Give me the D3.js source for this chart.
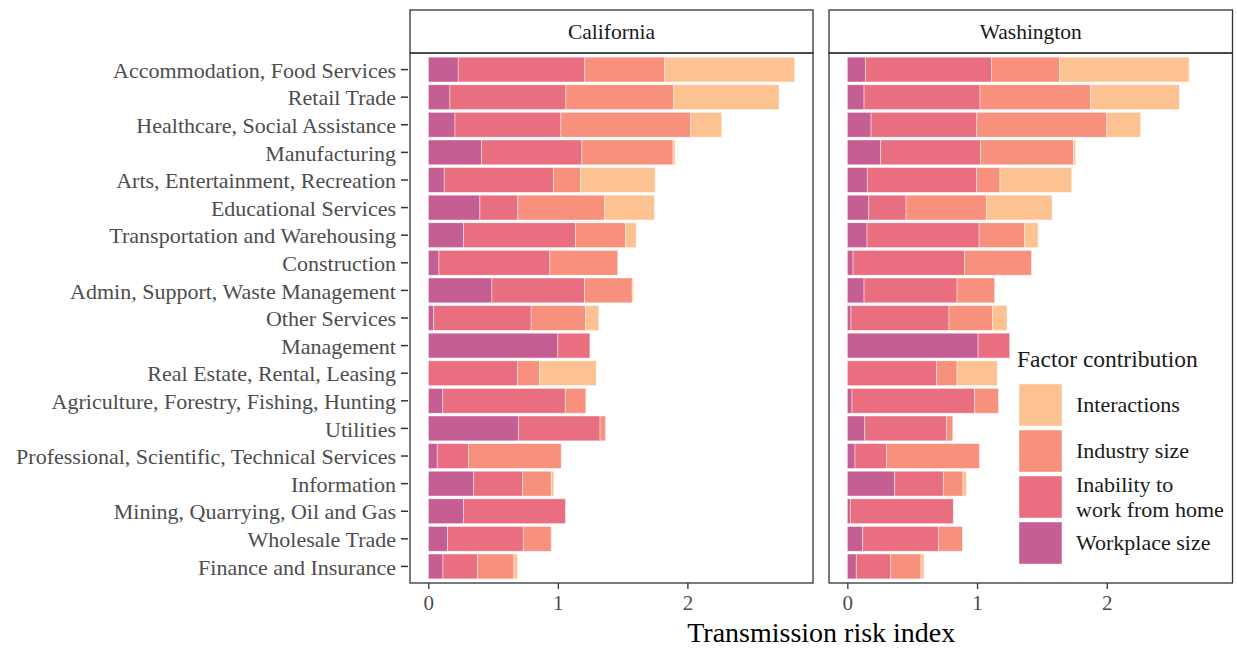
<!DOCTYPE html>
<html>
<head>
<meta charset="utf-8">
<script src="https://cdn.jsdelivr.net/npm/d3@7"></script>
<style>
  html, body { margin: 0; padding: 0; background: #fff; }
  svg { display: block; }
  text { font-family: "Liberation Serif", "DejaVu Serif", serif; }
</style>
</head>
<body>
<svg id="chart" width="1237" height="650"></svg>
<script>
// ---------------- DATA ----------------
const categories = [
  "Accommodation, Food Services",
  "Retail Trade",
  "Healthcare, Social Assistance",
  "Manufacturing",
  "Arts, Entertainment, Recreation",
  "Educational Services",
  "Transportation and Warehousing",
  "Construction",
  "Admin, Support, Waste Management",
  "Other Services",
  "Management",
  "Real Estate, Rental, Leasing",
  "Agriculture, Forestry, Fishing, Hunting",
  "Utilities",
  "Professional, Scientific, Technical Services",
  "Information",
  "Mining, Quarrying, Oil and Gas",
  "Wholesale Trade",
  "Finance and Insurance"
];
const states = ["California", "Washington"];
const factors = ["Workplace size", "Inability to work from home", "Industry size", "Interactions"];
const legendOrder = ["Interactions", "Industry size", "Inability to work from home", "Workplace size"];
const legendLabels = [["Interactions"], ["Industry size"], ["Inability to", "work from home"], ["Workplace size"]];
const tickValues = [0, 1, 2];

// California contributions (in category order)
const caWorkplace   = [0.231, 0.167, 0.206, 0.411, 0.123, 0.398, 0.272, 0.082, 0.491, 0.041, 1.000, 0.000, 0.111, 0.697, 0.069, 0.350, 0.272, 0.149, 0.113];
const caInability   = [0.977, 0.895, 0.817, 0.774, 0.844, 0.293, 0.864, 0.856, 0.715, 0.753, 0.247, 0.689, 0.946, 0.629, 0.242, 0.378, 0.787, 0.584, 0.267];
const caIndustry    = [0.617, 0.833, 1.003, 0.704, 0.210, 0.671, 0.386, 0.524, 0.368, 0.419, 0.000, 0.170, 0.159, 0.042, 0.715, 0.221, 0.000, 0.216, 0.281];
const caInteraction = [1.003, 0.812, 0.239, 0.016, 0.574, 0.383, 0.082, 0.000, 0.010, 0.103, 0.000, 0.437, 0.000, 0.000, 0.000, 0.020, 0.000, 0.005, 0.028];

// Washington contributions (in category order)
const waWorkplace   = [0.139, 0.129, 0.183, 0.257, 0.154, 0.165, 0.152, 0.044, 0.129, 0.028, 1.008, 0.000, 0.036, 0.134, 0.059, 0.365, 0.023, 0.118, 0.069];
const waInability   = [0.972, 0.894, 0.815, 0.771, 0.843, 0.288, 0.864, 0.859, 0.717, 0.756, 0.244, 0.689, 0.946, 0.630, 0.244, 0.375, 0.794, 0.584, 0.265];
const waIndustry    = [0.524, 0.851, 1.003, 0.717, 0.180, 0.620, 0.352, 0.517, 0.290, 0.334, 0.000, 0.157, 0.183, 0.049, 0.715, 0.152, 0.000, 0.185, 0.234];
const waInteraction = [1.000, 0.686, 0.260, 0.015, 0.553, 0.506, 0.103, 0.000, 0.000, 0.113, 0.000, 0.311, 0.000, 0.000, 0.000, 0.026, 0.000, 0.000, 0.023];

const colors = {
  "Workplace size": "#c55e92",
  "Inability to work from home": "#e96f80",
  "Industry size": "#f7907c",
  "Interactions": "#fdc292"
};

// Build tables
function buildTable(w, i, ind, inter) {
  return categories.map((c, k) => ({
    category: c,
    "Workplace size": w[k],
    "Inability to work from home": i[k],
    "Industry size": ind[k],
    "Interactions": inter[k]
  }));
}
const tables = {
  California: buildTable(caWorkplace, caInability, caIndustry, caInteraction),
  Washington: buildTable(waWorkplace, waInability, waIndustry, waInteraction)
};

// ---------------- LAYOUT ----------------
const svg = d3.select("#chart");
const panelTop = 53, panelBottom = 583, stripTop = 10;
const panels = [
  { state: "California", x0: 410, x1: 813 },
  { state: "Washington", x0: 829, x1: 1232.5 }
];
const maxTotal = d3.max(Object.values(tables).flat(), d => d3.sum(factors, f => d[f]));
const pad = maxTotal * 0.05;
const xDomain = [-pad, maxTotal + pad];

const y = d3.scaleBand()
  .domain(categories)
  .range([panelTop, panelBottom])
  .paddingInner(0.1)
  .paddingOuter(0.15);

const stack = d3.stack().keys(factors);

const axisGrey = "#4d4d4d";
const borderCol = "#333333";

panels.forEach((p, pi) => {
  const x = d3.scaleLinear().domain(xDomain).range([p.x0, p.x1]);
  const g = svg.append("g");

  // strip
  g.append("rect")
    .attr("x", p.x0).attr("y", stripTop)
    .attr("width", p.x1 - p.x0).attr("height", panelTop - stripTop)
    .attr("fill", "#fff").attr("stroke", borderCol).attr("stroke-width", 1.3);
  g.append("text")
    .attr("x", (p.x0 + p.x1) / 2).attr("y", (stripTop + panelTop) / 2)
    .attr("dy", "0.33em").attr("text-anchor", "middle")
    .attr("font-size", 21.5).attr("fill", "#1a1a1a")
    .text(p.state);

  // bars
  const series = stack(tables[p.state]);
  g.append("g").selectAll("g")
    .data(series).join("g")
    .attr("fill", s => colors[s.key])
    .selectAll("rect")
    .data(s => s.filter(d => d[1] - d[0] > 0))
    .join("rect")
    .attr("x", d => x(d[0]))
    .attr("width", d => x(d[1]) - x(d[0]))
    .attr("y", d => y(d.data.category))
    .attr("height", y.bandwidth())
    .attr("stroke", "#ffffff").attr("stroke-opacity", 0.55).attr("stroke-width", 0.8);

  // panel border
  g.append("rect")
    .attr("x", p.x0).attr("y", panelTop)
    .attr("width", p.x1 - p.x0).attr("height", panelBottom - panelTop)
    .attr("fill", "none").attr("stroke", borderCol).attr("stroke-width", 1.3);

  // x axis
  const xAxis = d3.axisBottom(x).tickValues(tickValues).tickFormat(d3.format("d")).tickSize(6).tickPadding(6);
  const xa = g.append("g").attr("transform", `translate(0,${panelBottom})`).call(xAxis);
  xa.select(".domain").remove();
  xa.selectAll("line").attr("stroke", borderCol).attr("stroke-width", 1.3);
  xa.selectAll("text").attr("font-size", 21).attr("fill", axisGrey)
    .attr("font-family", "'Liberation Serif', serif");

  // y axis (only first panel)
  if (pi === 0) {
    const yAxis = d3.axisLeft(y).tickSize(7).tickPadding(5);
    const ya = g.append("g").attr("transform", `translate(${p.x0 - 2},0)`).call(yAxis);
    ya.select(".domain").remove();
    ya.selectAll("line").attr("stroke", borderCol).attr("stroke-width", 1.5);
    ya.selectAll("text").attr("font-size", 22).attr("fill", axisGrey)
      .attr("dy", "0.37em")
      .attr("font-family", "'Liberation Serif', serif");
  }
});

// axis title
svg.append("text")
  .attr("x", (panels[0].x0 + panels[1].x1) / 2).attr("y", 642)
  .attr("text-anchor", "middle").attr("font-size", 28).attr("fill", "#000")
  .text("Transmission risk index");

// legend
const lg = svg.append("g");
lg.append("text").attr("x", 1017).attr("y", 367)
  .attr("font-size", 23.5).attr("fill", "#1a1a1a").text("Factor contribution");
const keyY0 = 384, keyStep = 46, keyW = 43, keyH = 42;
legendOrder.forEach((f, i) => {
  const yy = keyY0 + i * keyStep;
  lg.append("rect").attr("x", 1019).attr("y", yy).attr("width", keyW).attr("height", keyH)
    .attr("fill", colors[f]).attr("stroke", "#fff").attr("stroke-opacity", 0.55).attr("stroke-width", 0.8);
  const lines = legendLabels[i];
  const cy = yy + keyH / 2;
  lines.forEach((ln, j) => {
    lg.append("text").attr("x", 1076)
      .attr("y", cy + (j - (lines.length - 1) / 2) * 25)
      .attr("dy", "0.33em").attr("font-size", 22).attr("fill", "#1a1a1a").text(ln);
  });
});
</script>
</body>
</html>
